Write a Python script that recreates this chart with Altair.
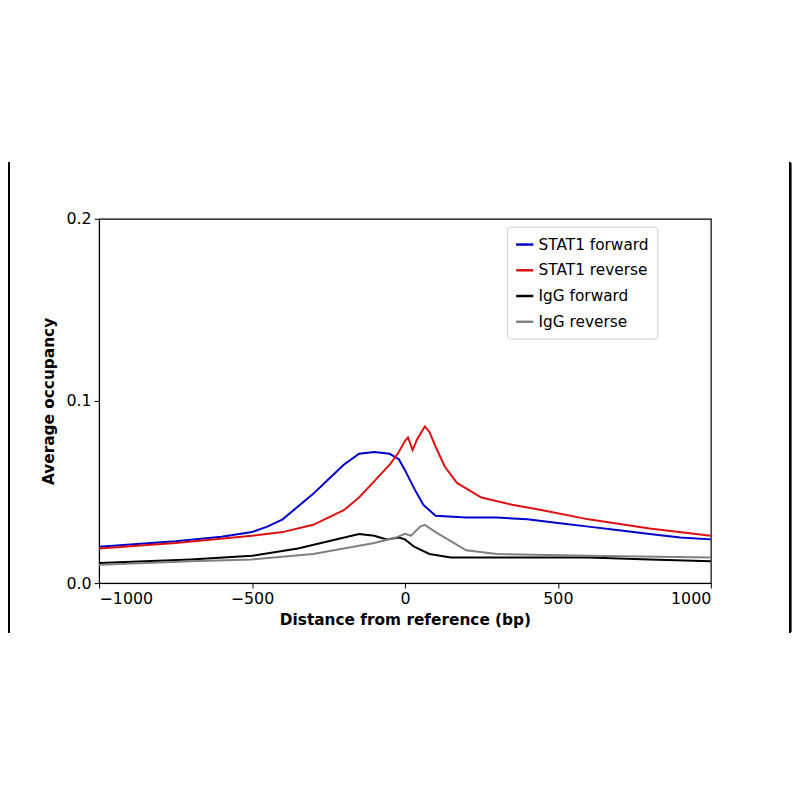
import altair as alt
import pandas as pd

# values
blue_x = [-1000, -750, -600, -500, -450, -400, -300, -250, -200, -150, -100, -50, -20, 0, 30, 60, 100, 200, 300, 400, 500, 600, 700, 800, 900, 1000]
blue_y = [0.020, 0.023, 0.0255, 0.028, 0.031, 0.035, 0.049, 0.057, 0.065, 0.071, 0.072, 0.071, 0.068, 0.062, 0.052, 0.043, 0.037, 0.036, 0.036, 0.035, 0.033, 0.031, 0.029, 0.027, 0.025, 0.024]
red_x = [-1000, -750, -500, -400, -300, -200, -150, -100, -50, -20, 0, 10, 25, 40, 65, 80, 100, 130, 170, 250, 350, 450, 600, 800, 1000]
red_y = [0.019, 0.022, 0.026, 0.028, 0.032, 0.040, 0.047, 0.056, 0.065, 0.072, 0.078, 0.080, 0.073, 0.079, 0.086, 0.083, 0.075, 0.064, 0.055, 0.047, 0.043, 0.040, 0.035, 0.030, 0.026]
black_x = [-1000, -700, -500, -350, -250, -150, -100, -60, -20, 0, 30, 80, 150, 300, 600, 800, 1000]
black_y = [0.011, 0.013, 0.015, 0.019, 0.023, 0.027, 0.026, 0.024, 0.025, 0.024, 0.020, 0.016, 0.014, 0.014, 0.014, 0.013, 0.012]
gray_x = [-1000, -700, -500, -300, -200, -100, -30, 0, 20, 50, 65, 100, 150, 200, 300, 600, 1000]
gray_y = [0.010, 0.012, 0.013, 0.016, 0.019, 0.022, 0.025, 0.027, 0.026, 0.031, 0.032, 0.028, 0.023, 0.018, 0.016, 0.015, 0.014]

series = ["STAT1 forward", "STAT1 reverse", "IgG forward", "IgG reverse"]
colors = ["#0000cc", "#dd1111", "#000000", "#808080"]

rows = []
for name, xs, ys in zip(series, [blue_x, red_x, black_x, gray_x], [blue_y, red_y, black_y, gray_y]):
    rows += [{"series": name, "d": x, "v": y} for x, y in zip(xs, ys)]
df = pd.DataFrame(rows)

font = "DejaVu Sans"

lines = alt.Chart(df).mark_line(strokeWidth=2).encode(
    x=alt.X("d:Q", scale=alt.Scale(domain=[-1000, 1000], nice=False),
            axis=alt.Axis(values=[-1000, -500, 0, 500, 1000], format="d",
                          labelExpr="replace(datum.label, '-', '\u2212')",
                          title="Distance from reference (bp)")),
    y=alt.Y("v:Q", scale=alt.Scale(domain=[0, 0.2], nice=False),
            axis=alt.Axis(values=[0, 0.1, 0.2], format=".1f", title="Average occupancy")),
    color=alt.Color("series:N", sort=series,
                    scale=alt.Scale(domain=series, range=colors),
                    legend=alt.Legend(title=None, orient="none", legendX=412, legendY=8,
                                      symbolType="stroke", symbolStrokeWidth=2.5, symbolSize=300,
                                      labelFontSize=15.5, labelFont=font, strokeColor="#cccccc",
                                      padding=8, cornerRadius=3, rowPadding=7, fillColor="white")),
)

left_bar = alt.Chart(df).mark_rule(color="black", strokeWidth=2, clip=False).encode(
    x=alt.value(-91), y=alt.value(-57), y2=alt.value(418))
right_bar = alt.Chart(df).mark_rule(color="black", strokeWidth=2, clip=False).encode(
    x=alt.value(698), y=alt.value(-57), y2=alt.value(418))

chart = alt.layer(lines, left_bar, right_bar).properties(
    width=618, height=368,
    autosize=alt.AutoSizeParams(type="none"),
    padding={"left": 92, "top": 209, "right": 82, "bottom": 200},
).configure_view(stroke="black", strokeWidth=1.2).configure_axis(
    grid=False, domainColor="black", tickColor="black", labelColor="black",
    labelFont=font, labelFontSize=16, titleFont=font, titleFontSize=15.5,
    titleFontWeight="bold", titleColor="black", tickSize=5, labelPadding=3,
).configure_axisX(titlePadding=6).configure_axisY(titlePadding=10)

chart.save("out.html", embed_options={"renderer": "svg", "actions": False})
